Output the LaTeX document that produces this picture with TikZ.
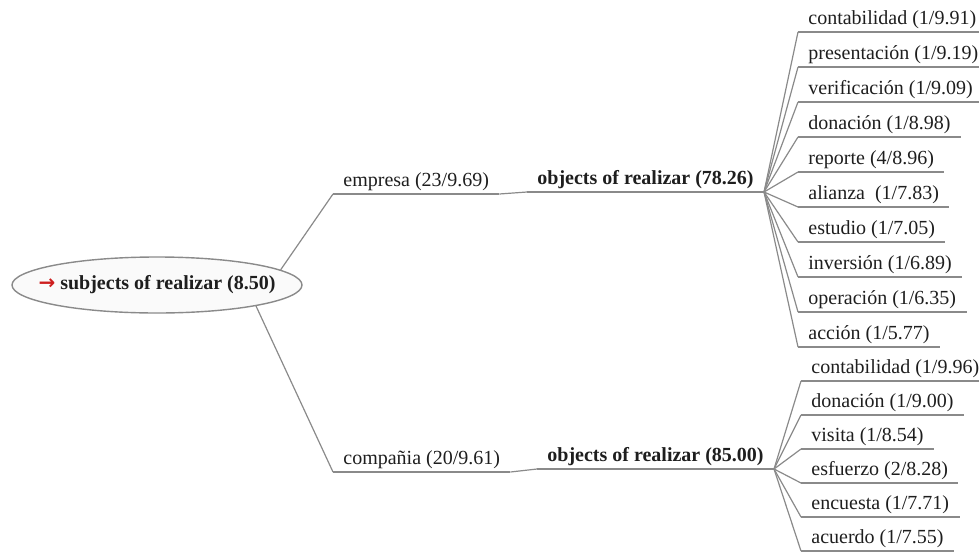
\documentclass[tikz,border=0pt]{standalone}
\usepackage{fontspec}
\setmainfont{Liberation Serif}
\newfontfamily\arrowfont{DejaVu Sans}
\usepackage{tikz}
\definecolor{branchgray}{RGB}{138,138,138}
\definecolor{labelink}{RGB}{30,30,30}
\definecolor{arrowred}{RGB}{205,30,30}
\usetikzlibrary{shapes.geometric}

\begin{document}
\begin{tikzpicture}[
  x=0.5pt, y=-0.5pt,
  every node/.style={font=\normalsize, color=labelink},
  branch/.style={draw=branchgray, line width=0.6pt},
  uline/.style={anchor=south west, inner xsep=5pt, inner ysep=1pt,
    text height=0.72em, text depth=0.25em,
    append after command={(\tikzlastnode.south west) edge[branch] (\tikzlastnode.south east)}},
  head/.style={uline, font=\normalsize\bfseries},
  root node/.style={ellipse, draw=branchgray, fill=black!2, line width=0.7pt,
    minimum width=145pt, minimum height=28pt, inner xsep=-9pt, inner ysep=0pt,
    font=\normalsize\bfseries},
]
  \useasboundingbox (0,0) rectangle (979,552);

  % root
  \node[root node] (root) at (157,285)
    {\textcolor{arrowred}{\arrowfont\bfseries →}\ subjects of realizar (8.50)};

  % first level
  \node[uline] (emp) at (333,194) {empresa (23/9.69)};
  \node[uline] (cmp) at (333,472) {compañia (20/9.61)};
  \node[head] (objA) at (527,192) {objects of realizar (78.26)};
  \node[head] (objB) at (537,469) {objects of realizar (85.00)};

  \draw[branch] (root.7) -- (emp.south west);
  \draw[branch] (root.-12) -- (cmp.south west);
  \draw[branch] (emp.south east) -- (objA.south west);
  \draw[branch] (cmp.south east) -- (objB.south west);

  % objects of empresa
  \node[uline] (a1) at (798,32) {contabilidad (1/9.91)};
  \node[uline] (a2) at (798,67) {presentación (1/9.19)};
  \node[uline] (a3) at (798,102) {verificación (1/9.09)};
  \node[uline] (a4) at (798,137) {donación (1/8.98)};
  \node[uline] (a5) at (798,172) {reporte (4/8.96)};
  \node[uline] (a6) at (798,207) {alianza\ \ (1/7.83)};
  \node[uline] (a7) at (798,242) {estudio (1/7.05)};
  \node[uline] (a8) at (798,277) {inversión (1/6.89)};
  \node[uline] (a9) at (798,312) {operación (1/6.35)};
  \node[uline] (a10) at (798,347) {acción (1/5.77)};

  \draw[branch] (objA.south east) -- (a1.south west);
  \draw[branch] (objA.south east) -- (a2.south west);
  \draw[branch] (objA.south east) -- (a3.south west);
  \draw[branch] (objA.south east) -- (a4.south west);
  \draw[branch] (objA.south east) -- (a5.south west);
  \draw[branch] (objA.south east) -- (a6.south west);
  \draw[branch] (objA.south east) -- (a7.south west);
  \draw[branch] (objA.south east) -- (a8.south west);
  \draw[branch] (objA.south east) -- (a9.south west);
  \draw[branch] (objA.south east) -- (a10.south west);

  % objects of compañia
  \node[uline] (b1) at (801,381) {contabilidad (1/9.96)};
  \node[uline] (b2) at (801,415) {donación (1/9.00)};
  \node[uline] (b3) at (801,449) {visita (1/8.54)};
  \node[uline] (b4) at (801,483) {esfuerzo (2/8.28)};
  \node[uline] (b5) at (801,517) {encuesta (1/7.71)};
  \node[uline] (b6) at (801,551) {acuerdo (1/7.55)};

  \draw[branch] (objB.south east) -- (b1.south west);
  \draw[branch] (objB.south east) -- (b2.south west);
  \draw[branch] (objB.south east) -- (b3.south west);
  \draw[branch] (objB.south east) -- (b4.south west);
  \draw[branch] (objB.south east) -- (b5.south west);
  \draw[branch] (objB.south east) -- (b6.south west);
\end{tikzpicture}
\end{document}
